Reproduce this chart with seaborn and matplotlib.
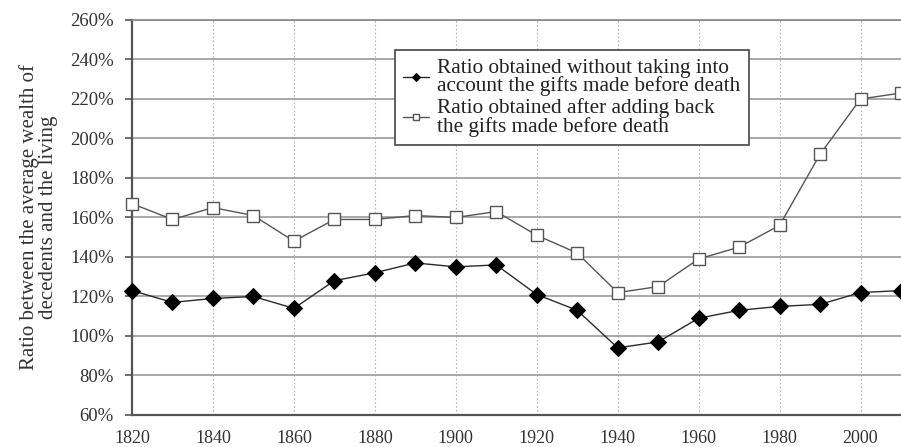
import matplotlib
matplotlib.use("Agg")
import matplotlib.pyplot as plt
import pandas as pd
import seaborn as sns
from matplotlib import ticker

years = [1820, 1830, 1840, 1850, 1860, 1870, 1880, 1890, 1900, 1910,
         1920, 1930, 1940, 1950, 1960, 1970, 1980, 1990, 2000, 2010]
without_gifts = [123, 117, 119, 120, 114, 128, 132, 137, 135, 136,
                 121, 113, 94, 97, 109, 113, 115, 116, 122, 123]
with_gifts = [167, 159, 165, 161, 148, 159, 159, 161, 160, 163,
              151, 142, 122, 125, 139, 145, 156, 192, 220, 223]
label_without = "Ratio obtained without taking into\naccount the gifts made before death"
label_with = "Ratio obtained after adding back\nthe gifts made before death"
y_ticks = list(range(60, 261, 20))
x_ticks = list(range(1820, 2001, 20))

sns.set_theme(style="white")
plt.rcParams["font.family"] = ["Liberation Serif", "DejaVu Serif"]

df = pd.DataFrame({"year": years, "without": without_gifts, "with": with_gifts})

fig = plt.figure(figsize=(9.01, 4.47), dpi=100)
ax = fig.add_axes([0.1465, 0.0716, 0.8535, 0.8837])

sns.lineplot(data=df, x="year", y="without", ax=ax, color="#2a2a2a", lw=1.0,
             marker="D", markersize=8, markerfacecolor="black", markeredgecolor="black",
             label=label_without, clip_on=False, zorder=4)
sns.lineplot(data=df, x="year", y="with", ax=ax, color="#555555", lw=1.0,
             marker="s", markersize=8.5, markerfacecolor="white", markeredgecolor="#555555",
             markeredgewidth=1.0, label=label_with, clip_on=False, zorder=4)

ax.set_xlim(1820, 2010)
ax.set_ylim(60, 260)
ax.set_yticks(y_ticks)
ax.set_xticks(x_ticks)
ax.yaxis.set_major_formatter(ticker.FuncFormatter(lambda v, p: f"{v:.0f}%"))

ax.grid(axis="y", color="#9a9a9a", lw=1.2, ls="-")
ax.grid(axis="x", color="#b5b5b5", lw=0.8, ls=(0, (1.5, 2)))
ax.set_axisbelow(True)

for side in ["left", "bottom"]:
    ax.spines[side].set_color("#555555")
    ax.spines[side].set_linewidth(1.6)
ax.spines["top"].set_color("#888888")
ax.spines["top"].set_linewidth(1.2)
ax.spines["right"].set_visible(False)

ax.tick_params(axis="y", which="major", left=True, length=5, width=1.2, color="#555555",
               labelsize=13.5, labelcolor="#333333", pad=8)
ax.tick_params(axis="x", which="major", bottom=True, length=0, labelsize=13,
               labelcolor="#333333", pad=11)

ax.set_xlabel("")
ax.set_ylabel("Ratio between the average wealth of\ndecedents and the living",
              fontsize=15, color="#333333", linespacing=1.0, labelpad=9)

leg = ax.legend(loc="upper left", bbox_to_anchor=(0.342, 0.924), borderaxespad=0,
                fontsize=15.3, frameon=True, fancybox=False, edgecolor="#444444",
                framealpha=1, handlelength=1.2, handletextpad=0.4, labelspacing=0.1,
                markerscale=0.55, borderpad=0.4)
leg.get_frame().set_linewidth(1.2)
for t in leg.get_texts():
    t.set_linespacing(0.92)
    t.set_color("#222222")

fig.savefig("out.png", dpi=100)
